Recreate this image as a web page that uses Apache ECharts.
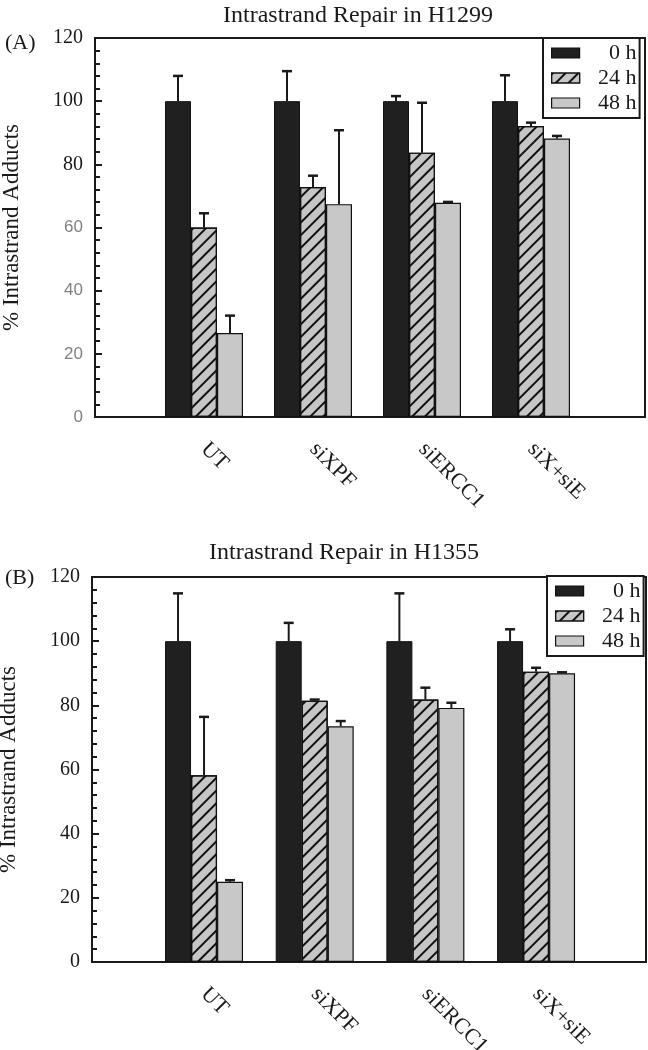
<!DOCTYPE html>
<html>
<head>
<meta charset="utf-8">
<script src="https://cdn.jsdelivr.net/npm/echarts@6/dist/echarts.min.js"></script>
<style>
html,body{margin:0;padding:0;background:#fff;}
#chart{width:648px;height:1050px;}
</style>
</head>
<body>
<div id="chart"></div>
<script>
// ---- data ----
const categories = ['UT', 'siXPF', 'siERCC1', 'siX+siE'];
const seriesNames = ['0 h', '24 h', '48 h'];
const yTicks = [0, 20, 40, 60, 80, 100, 120];

// Panel A: H1299
const a0h = [100, 100, 100, 100];
const a0hErr = [8, 9.5, 1.6, 8.2];
const a24h = [60.0, 72.8, 83.7, 92.1];
const a24hErr = [4.5, 3.6, 15.8, 1.1];
const a48h = [26.6, 67.4, 67.8, 88.2];
const a48hErr = [5.5, 23.4, 0.3, 0.8];

// Panel B: H1355
const b0h = [100, 100, 100, 100];
const b0hErr = [14.9, 5.7, 14.9, 3.7];
const b24h = [58.2, 81.4, 81.8, 90.5];
const b24hErr = [18.2, 0.4, 3.7, 1.2];
const b48h = [25.0, 73.5, 79.2, 90.0];
const b48hErr = [0.5, 1.6, 1.6, 0.3];

// ---- styles ----
const SERIF = 'Liberation Serif';
const BAR_W = 26;
const ink = '#1a1a1a';
const barStyles = [
  {color: '#202020', borderColor: '#111', borderWidth: 1},
  {color: '#c6c6c6', borderColor: '#111', borderWidth: 1.2,
   decal: {symbol: 'rect', symbolSize: 1, color: '#111', dashArrayX: [1, 0], dashArrayY: [2, 6.5], rotation: -Math.PI / 4}},
  {color: '#c8c8c8', borderColor: '#111', borderWidth: 1.2}
];

const chart = echarts.init(document.getElementById('chart'), null, {renderer: 'canvas'});

const panels = [
  {vals: [a0h, a24h, a48h], errs: [a0hErr, a24hErr, a48hErr],
   frame: {left: 95, top: 38, width: 550, height: 379},
   bars: {left: 149.5, top: 38, width: 436, height: 379},
   mixedLabels: true,
   legend: {left: 543, top: 38}},
  {vals: [b0h, b24h, b48h], errs: [b0hErr, b24hErr, b48hErr],
   frame: {left: 92, top: 577, width: 554, height: 385},
   bars: {left: 148.7, top: 577, width: 442.7, height: 385},
   mixedLabels: false,
   legend: {left: 547, top: 576}}
];

const grid = [], xAxis = [], yAxis = [], series = [], legend = [];

panels.forEach((p, pi) => {
  const gF = grid.length;
  grid.push(Object.assign({show: true, borderColor: ink, borderWidth: 2, backgroundColor: 'transparent',
    containLabel: false, outerBoundsMode: 'none'}, p.frame));
  const gB = grid.length;
  grid.push(Object.assign({containLabel: false, outerBoundsMode: 'none'}, p.bars));

  xAxis.push({gridIndex: gF, type: 'category', data: categories, show: false});
  xAxis.push({
    gridIndex: gB, type: 'category', data: categories,
    axisLine: {show: false}, axisTick: {show: false},
    axisLabel: {rotate: -45, margin: 29, fontFamily: SERIF, fontSize: 22, color: ink, interval: 0}
  });

  yAxis.push({
    gridIndex: gF, type: 'value', min: yTicks[0], max: yTicks[yTicks.length - 1], interval: 20,
    name: '% Intrastrand Adducts', nameLocation: 'middle', nameGap: 72,
    nameTextStyle: {fontFamily: SERIF, fontSize: 23, color: ink},
    axisLine: {show: true, lineStyle: {color: ink, width: 2}},
    axisTick: {show: true, inside: true, length: 7, lineStyle: {color: ink, width: 2}},
    minorTick: {show: true, splitNumber: 5, length: 5, lineStyle: {color: ink, width: 2}},
    splitLine: {show: false},
    axisLabel: {
      margin: 12,
      formatter: p.mixedLabels ? (v => (v >= 80 ? '{s|' + v + '}' : '{g|' + v + '}')) : (v => '{s|' + v + '}'),
      rich: {
        s: {fontFamily: SERIF, fontSize: 20, color: ink},
        g: {fontFamily: 'Liberation Sans', fontSize: 17, color: '#808080'}
      }
    }
  });
  yAxis.push({gridIndex: gB, type: 'value', min: yTicks[0], max: yTicks[yTicks.length - 1], interval: 20, show: false});

  const xi = gB, yi = gB;
  seriesNames.forEach((nm, si) => {
    series.push({
      name: nm, type: 'bar', xAxisIndex: xi, yAxisIndex: yi,
      barWidth: BAR_W, barGap: '0%',
      itemStyle: barStyles[si],
      data: p.vals[si],
      z: 2
    });
  });

  const errData = [];
  seriesNames.forEach((nm, si) => {
    categories.forEach((c, ci) => {
      errData.push([ci, p.vals[si][ci], p.errs[si][ci], si]);
    });
  });
  series.push({
    name: 'err' + pi, type: 'custom', xAxisIndex: xi, yAxisIndex: yi, z: 3,
    data: errData,
    renderItem: function (params, api) {
      const ci = api.value(0), v = api.value(1), e = api.value(2), si = api.value(3);
      const base = api.coord([ci, v]);
      const top = api.coord([ci, v + e]);
      const x = base[0] + (si - 1) * BAR_W;
      const cap = 5;
      return {
        type: 'group',
        children: [
          {type: 'line', shape: {x1: x, y1: base[1], x2: x, y2: top[1]}, style: {stroke: ink, lineWidth: 2}},
          {type: 'line', shape: {x1: x - cap, y1: top[1], x2: x + cap, y2: top[1]}, style: {stroke: ink, lineWidth: 2.5}}
        ]
      };
    }
  });

  legend.push({
    data: seriesNames, orient: 'vertical', left: p.legend.left, top: p.legend.top,
    backgroundColor: '#fff', borderColor: ink, borderWidth: 2,
    padding: [4, 3, 4, 8], itemGap: 3, itemWidth: 28, itemHeight: 10,
    icon: 'rect', selectedMode: false,
    itemStyle: {borderColor: '#111', borderWidth: 1.2},
    formatter: name => '{r|' + name + '}',
    textStyle: {fontFamily: SERIF, fontSize: 22, color: ink,
      rich: {r: {fontFamily: SERIF, fontSize: 22, color: ink, width: 52, align: 'right'}}}
  });
});

const option = {
  animation: false,
  backgroundColor: '#fff',
  grid, xAxis, yAxis, series, legend,
  graphic: [
    {type: 'text', x: 358, y: 4, style: {text: 'Intrastrand Repair in H1299', textAlign: 'center', fontFamily: SERIF, fontSize: 24, fill: ink}},
    {type: 'text', x: 344, y: 541, style: {text: 'Intrastrand Repair in H1355', textAlign: 'center', fontFamily: SERIF, fontSize: 24, fill: ink}},
    {type: 'text', x: 5, y: 32, style: {text: '(A)', fontFamily: SERIF, fontSize: 22, fill: ink}},
    {type: 'text', x: 5, y: 567, style: {text: '(B)', fontFamily: SERIF, fontSize: 22, fill: ink}}
  ]
};
chart.setOption(option);
</script>
</body>
</html>
